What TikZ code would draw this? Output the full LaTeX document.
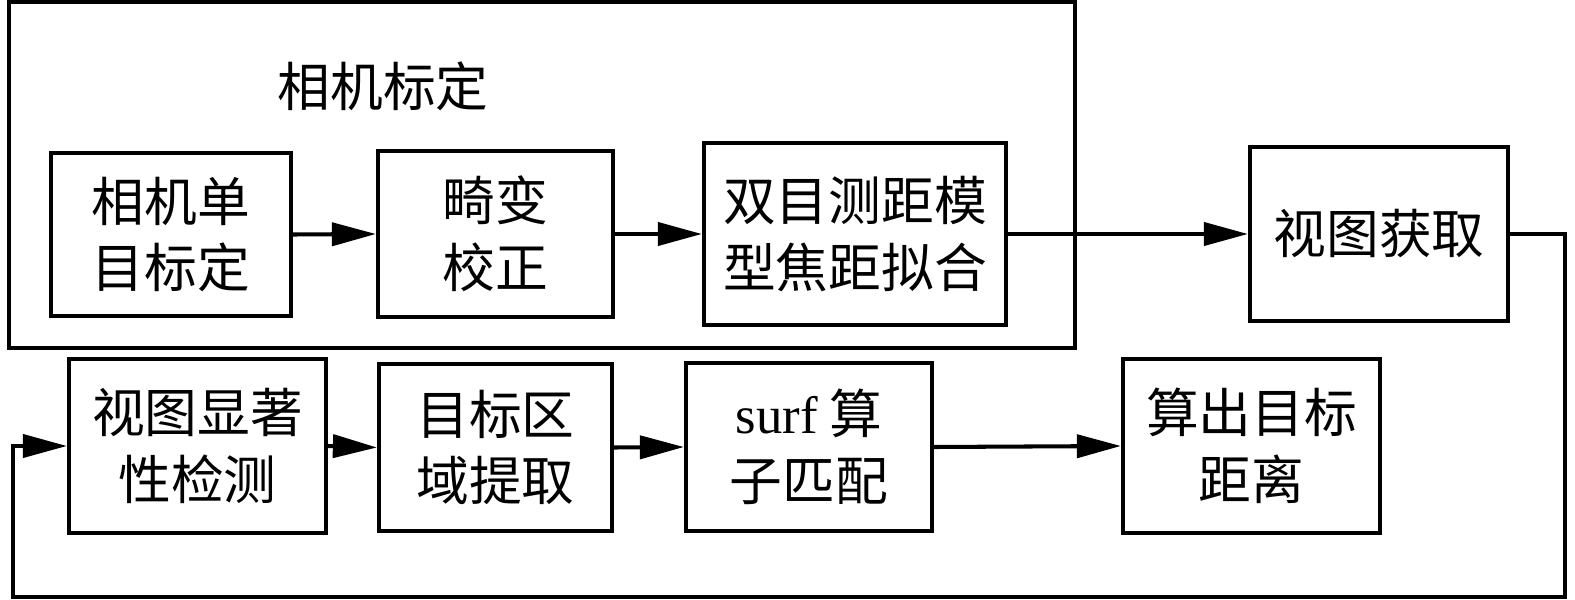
\documentclass[tikz,border=0pt]{standalone}
\usepackage{fontspec}
\setmainfont{Liberation Serif}
\newfontfamily\cjk{Noto Sans CJK SC}
\usetikzlibrary{arrows.meta, positioning}
\tikzset{
  blk/.style={draw, line width=1.15pt, align=center, inner sep=0pt,
    font=\cjk\fontsize{15}{19}\selectfont},
  flow/.style={line width=1.15pt, -{Triangle[length=0.44cm, width=0.23cm]}},
}

\begin{document}
\begin{tikzpicture}[x=0.01cm, y=-0.01cm]
  \useasboundingbox (0,0) rectangle (1575,600);

  % === camera calibration group ===
  \node[draw, line width=1.15pt, inner sep=0pt, minimum width=10.66cm, minimum height=3.46cm] (calib) at (542,175) {};
  \node[font=\cjk\fontsize{15}{19}\selectfont] (calibtitle) at (383,86) {相机标定};
  \node[blk, minimum width=2.40cm, minimum height=1.63cm] (mono) at (171,234.5) {相机单\\目标定};
  \node[blk, minimum width=2.35cm, minimum height=1.66cm] (undist) at (495.5,234) {畸变\\校正};
  \node[blk, minimum width=3.02cm, minimum height=1.82cm] (stereo) at (855,234) {双目测距模\\型焦距拟合};

  % === top row, outside ===
  \node[blk, minimum width=2.58cm, minimum height=1.74cm] (grab) at (1379,234) {视图获取};

  % === bottom row ===
  \node[blk, minimum width=2.57cm, minimum height=1.74cm] (salient) at (197.5,446) {视图显著\\性检测};
  \node[blk, minimum width=2.33cm, minimum height=1.67cm] (roi) at (495.5,447.5) {目标区\\域提取};
  \node[blk, minimum width=2.46cm, minimum height=1.68cm] (surf) at (809,447) {{\rmfamily surf} 算\\子匹配};
  \node[blk, minimum width=2.57cm, minimum height=1.74cm] (dist) at (1251.5,446) {算出目标\\距离};

  % === connectors ===
  \draw[flow] (mono.east) -- (undist.west);
  \draw[flow] (undist.east) -- (stereo.west);
  \draw[flow] (stereo.east) -- (grab.west);

  \coordinate (loopR) at (1565,597);
  \coordinate (loopL) at (13,597);
  \draw[flow, line join=miter] (grab.east) -| (loopR) -- (loopL) |- (salient.west);

  \draw[flow] (salient.east) -- (roi.west);
  \draw[flow] (roi.east) -- (surf.west);
  \draw[flow] (surf.east) -- (dist.west);
\end{tikzpicture}
\end{document}
